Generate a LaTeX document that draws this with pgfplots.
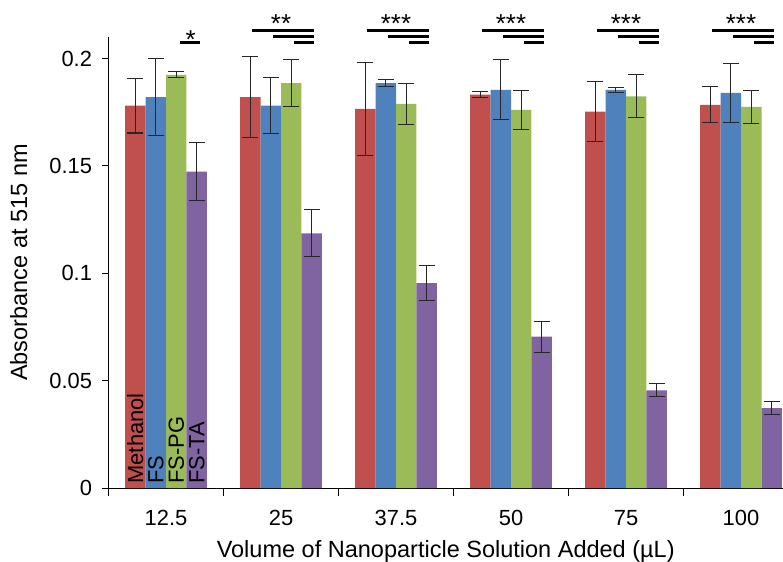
\documentclass[border=0pt]{standalone}
\usepackage{fontspec}
\setmainfont{Liberation Sans}
\usepackage{pgfplots}
\pgfplotsset{compat=1.18}
\definecolor{cred}{HTML}{C0504D}
\definecolor{cblue}{HTML}{4F81BD}
\definecolor{cgreen}{HTML}{9BBB59}
\definecolor{cpurple}{HTML}{8064A2}
\newcommand{\sigset}[2]{%
  \draw[line width=3pt] (axis cs:#1-0.25,0.2131) -- (axis cs:#1+0.285,0.2131);
  \draw[line width=3pt] (axis cs:#1-0.072,0.2103) -- (axis cs:#1+0.285,0.2103);
  \draw[line width=3pt] (axis cs:#1+0.115,0.2075) -- (axis cs:#1+0.285,0.2075);
  \node[anchor=base, inner sep=0pt, font=\fontsize{26}{28}\selectfont] at (axis cs:#1,0.2122) {#2};
}
\begin{document}
\begin{tikzpicture}
\begin{axis}[
  name=ax,
  width=674.5bp, height=451bp, scale only axis,
  xmin=-0.5, xmax=5.365, ymin=0, ymax=0.21,
  axis lines*=left,
  axis line style={line width=1pt, black},
  ybar=0pt, bar width=0.178,
  xtick={0,1,2,3,4,5},
  xticklabels={12.5,25,37.5,50,75,100},
  major x tick style={draw=none},
  minor xtick={-0.5,0.5,1.5,2.5,3.5,4.5},
  minor x tick style={black, line width=1pt},
  minor tick length=8bp,
  ytick={0,0.05,0.1,0.15,0.2},
  yticklabels={0,0.05,0.1,0.15,0.2},
  y tick style={black, line width=1pt},
  major tick length=6bp,
  tick align=outside,
  /pgf/number format/assume math mode=true,
  tick label style={font=\fontsize{22}{25}\selectfont},
  xticklabel style={yshift=-13bp},
  yticklabel style={xshift=-7bp},
  xlabel={Volume of Nanoparticle Solution Added (µL)},
  ylabel={Absorbance at 515 nm},
  label style={font=\fontsize{23.6}{26}\selectfont},
  xlabel style={yshift=-8bp},
  ylabel style={yshift=15bp},
  clip=false,
  error bars/y dir=both, error bars/y explicit,
  error bars/error bar style={black!85, line width=1.1pt},
  error bars/error mark options={black!85, line width=1.1pt, mark size=8bp, rotate=90},
]
\addplot[fill=cred, draw=none] coordinates {
 (0,0.178) +- (0,0.0127)
 (1,0.182) +- (0,0.019)
 (2,0.1765) +- (0,0.0216)
 (3,0.1832) +- (0,0.0013)
 (4,0.1753) +- (0,0.014)
 (5,0.1784) +- (0,0.0084)
};
\addplot[fill=cblue, draw=none] coordinates {
 (0,0.182) +- (0,0.018)
 (1,0.178) +- (0,0.013)
 (2,0.1885) +- (0,0.0016)
 (3,0.1854) +- (0,0.014)
 (4,0.1854) +- (0,0.0011)
 (5,0.184) +- (0,0.0138)
};
\addplot[fill=cgreen, draw=none] coordinates {
 (0,0.1924) +- (0,0.0014)
 (1,0.1885) +- (0,0.011)
 (2,0.1789) +- (0,0.0095)
 (3,0.1761) +- (0,0.0091)
 (4,0.1824) +- (0,0.010)
 (5,0.1775) +- (0,0.0077)
};
\addplot[fill=cpurple, draw=none] coordinates {
 (0,0.1473) +- (0,0.0135)
 (1,0.1186) +- (0,0.011)
 (2,0.0954) +- (0,0.0082)
 (3,0.0705) +- (0,0.0072)
 (4,0.0455) +- (0,0.0031)
 (5,0.0372) +- (0,0.003)
};
% series labels inside first group
\node[rotate=90, anchor=west, inner sep=0pt, font=\fontsize{22}{24}\selectfont] at (axis cs:-0.267,0.002) {Methanol};
\node[rotate=90, anchor=west, inner sep=0pt, font=\fontsize{22}{24}\selectfont] at (axis cs:-0.089,0.002) {FS};
\node[rotate=90, anchor=west, inner sep=0pt, font=\fontsize{22}{24}\selectfont] at (axis cs:0.089,0.002) {FS-PG};
\node[rotate=90, anchor=west, inner sep=0pt, font=\fontsize{22}{24}\selectfont] at (axis cs:0.267,0.002) {FS-TA};
% significance annotations
\draw[line width=3pt] (axis cs:0.122,0.2075) -- (axis cs:0.296,0.2075);
\node[anchor=base, inner sep=0pt, font=\fontsize{26}{28}\selectfont] at (axis cs:0.215,0.2047) {*};
\sigset{1}{**}
\sigset{2}{***}
\sigset{3}{***}
\sigset{4}{***}
\sigset{5}{***}
\end{axis}
\path (ax.south west) ++(-108.5bp,-74bp) coordinate (bl);
\path (ax.north east) ++(0bp,37bp) coordinate (tr);
\pgfresetboundingbox
\useasboundingbox (bl) rectangle (tr);
\end{tikzpicture}
\end{document}
